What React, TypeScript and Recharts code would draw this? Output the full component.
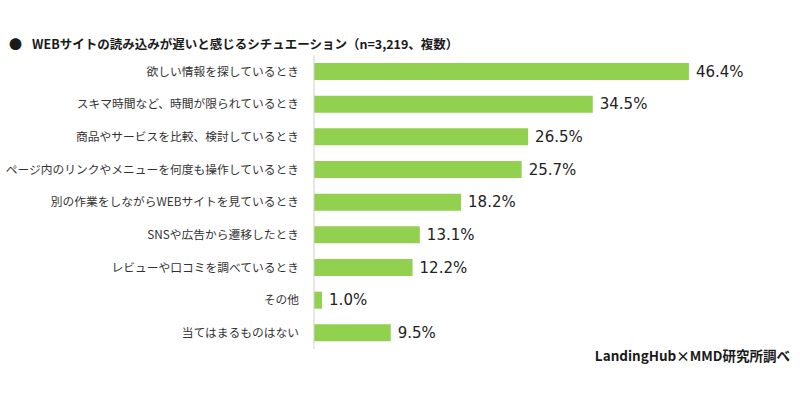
import React from "react";
import { BarChart, Bar, XAxis, YAxis, LabelList } from "recharts";

const categories = [
  "欲しい情報を探しているとき",
  "スキマ時間など、時間が限られているとき",
  "商品やサービスを比較、検討しているとき",
  "ページ内のリンクやメニューを何度も操作しているとき",
  "別の作業をしながらWEBサイトを見ているとき",
  "SNSや広告から遷移したとき",
  "レビューや口コミを調べているとき",
  "その他",
  "当てはまるものはない",
];
const values = [46.4, 34.5, 26.5, 25.7, 18.2, 13.1, 12.2, 1.0, 9.5];

const titleText = "WEBサイトの読み込みが遅いと感じるシチュエーション（n=3,219、複数）";
const sourceText = "LandingHub×MMD研究所調べ";

const data = categories.map((c, i) => ({ name: c, value: values[i] }));

const jp = '"Noto Sans CJK JP", "Noto Sans", sans-serif';

export default function App() {
  return (
    <div
      style={{
        position: "absolute",
        left: 0,
        top: 0,
        width: 800,
        height: 399,
        background: "#ffffff",
        overflow: "hidden",
      }}
    >
      <div
        style={{
          position: "absolute",
          left: 9,
          top: 35,
          fontFamily: jp,
          fontWeight: 700,
          fontSize: 12.5,
          lineHeight: "18px",
          color: "#1a1a1a",
          whiteSpace: "nowrap",
        }}
      >
        <span style={{ display: "inline-block", width: 23, fontSize: 13 }}>●</span>
        {titleText}
      </div>
      <div style={{ position: "absolute", left: 0, top: 0 }}>
        <BarChart
          width={800}
          height={399}
          data={data}
          layout="vertical"
          margin={{ top: 55, right: 82, bottom: 50, left: 0 }}
        >
          <XAxis type="number" domain={[0, 50]} hide />
          <YAxis
            type="category"
            dataKey="name"
            width={314}
            axisLine={{ stroke: "#cfcfcf", strokeWidth: 1 }}
            tickLine={false}
            tickSize={0}
            tickMargin={15}
            interval={0}
            tick={{ fill: "#333333", fontSize: 11.75, fontFamily: jp }}
          />
          <Bar dataKey="value" fill="#92D050" barSize={17} isAnimationActive={false}>
            <LabelList
              dataKey="value"
              position="right"
              offset={7}
              formatter={(v: number) => `${Number(v).toFixed(1)}%`}
              style={{ fill: "#222222", fontSize: 15, fontFamily: '"DejaVu Sans", Verdana, sans-serif' }}
            />
          </Bar>
        </BarChart>
      </div>
      <div
        style={{
          position: "absolute",
          right: 10,
          top: 346,
          fontFamily: jp,
          fontWeight: 700,
          fontSize: 13.5,
          lineHeight: "18px",
          color: "#1a1a1a",
          whiteSpace: "nowrap",
        }}
      >
        {sourceText}
      </div>
    </div>
  );
}
